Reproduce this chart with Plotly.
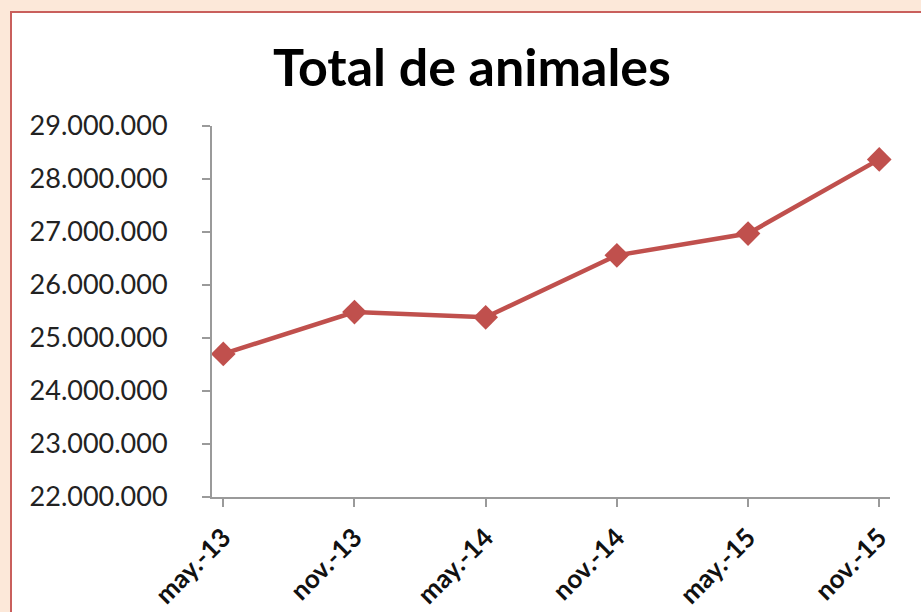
import plotly.graph_objects as go

categories = ["may.-13", "nov.-13", "may.-14", "nov.-14", "may.-15", "nov.-15"]
total_animales = [24700000, 25490000, 25390000, 26560000, 26970000, 28370000]
y_ticks = [22000000, 23000000, 24000000, 25000000, 26000000, 27000000, 28000000, 29000000]

W, H = 921, 612
L, R, T, B = 212, 31, 126, 115
pw, ph = W - L - R, H - T - B

def px_to_paper_x(px):
    return (px - L) / pw

def px_to_paper_y(py):
    return (H - B - py) / ph

fig = go.Figure()
fig.add_trace(go.Scatter(
    x=categories, y=total_animales, mode="lines+markers",
    line=dict(color="#c0504d", width=4.5),
    marker=dict(symbol="diamond", size=19, color="#c0504d"),
    showlegend=False, cliponaxis=False,
))

fig.add_shape(type="rect", xref="paper", yref="paper", layer="below",
              x0=px_to_paper_x(11), x1=px_to_paper_x(W + 20),
              y0=px_to_paper_y(H + 20), y1=px_to_paper_y(12),
              fillcolor="white", line=dict(color="#c95f5c", width=2))

fig.update_layout(
    width=W, height=H,
    margin=dict(l=L, r=R, t=T, b=B, autoexpand=False),
    paper_bgcolor="#fce8d9", plot_bgcolor="white",
    separators=",.",
    title=dict(text="<b>Total de animales</b>", x=472 / W, xanchor="center",
               y=1 - 68 / H, yanchor="middle",
               font=dict(family="Lato", size=52, color="#000000")),
    font=dict(family="Lato", color="#222222"),
)
fig.update_xaxes(
    type="category", range=[-0.086, 5.082], automargin=False,
    showline=True, linecolor="#9a9a9a", linewidth=2,
    ticks="outside", ticklen=8, tickcolor="#9a9a9a", tickwidth=2,
    tickangle=-45, tickfont=dict(family="Lato", size=26, color="#111111", weight="bold"),
    ticklabelstandoff=5,
    showgrid=False, zeroline=False,
)
fig.update_yaxes(
    range=[22000000, 29000000], tickvals=y_ticks, tickformat=",d", automargin=False,
    showline=True, linecolor="#9a9a9a", linewidth=2,
    ticks="outside", ticklen=8, tickcolor="#9a9a9a", tickwidth=2,
    tickfont=dict(family="Lato", size=27, color="#222222"),
    ticklabelstandoff=29,
    showgrid=False, zeroline=False,
)

fig.write_html("out.html", config={"displayModeBar": False},
               post_script="document.body.style.margin='0';document.body.style.overflow='hidden';")
